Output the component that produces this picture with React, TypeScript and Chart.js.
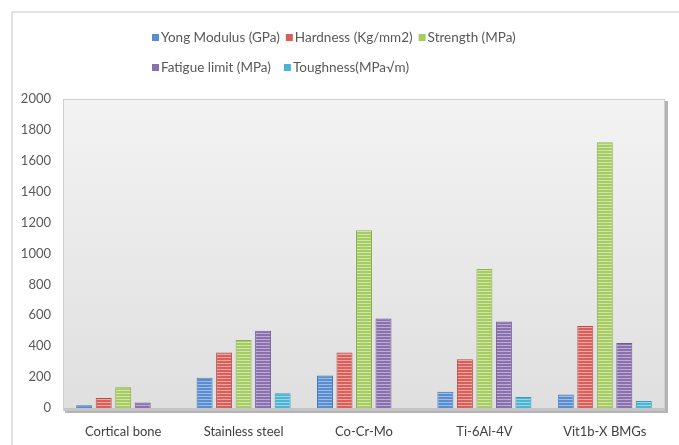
import React, { useEffect, useRef } from "react";
import { Chart, registerables } from "chart.js";

Chart.register(...registerables);

// ---- data ----
const categories = ["Cortical bone", "Stainless steel", "Co-Cr-Mo", "Ti-6Al-4V", "Vit1b-X BMGs"];
const seriesNames = [
  "Yong Modulus (GPa)",
  "Hardness (Kg/mm2)",
  "Strength (MPa)",
  "Fatigue limit (MPa)",
  "Toughness(MPa\u221Am)",
];
const youngModulus = [18, 195, 210, 105, 88];
const hardness = [65, 360, 360, 315, 530];
const strength = [135, 440, 1150, 900, 1720];
const fatigueLimit = [35, 500, 580, 560, 420];
const toughness = [0, 95, 0, 72, 45];
const yMin = 0;
const yMax = 2000;
const yStep = 200;

// ---- styling ----
const FONT = "Lato, 'Open Sans', sans-serif";
const baseColors = ["#5a8dcf", "#d95f5b", "#a5cb62", "#8b70ae", "#4cb5d2"];
const stripeColors = ["#9dbde4", "#eca7a5", "#d1e6a9", "#bcacd4", "#9bd7e8"];
const edgeColors = ["#4a78b2", "#b94c48", "#8db04f", "#735b96", "#3b9bb6"];

function stripePattern(base: string, stripe: string): CanvasPattern | string {
  const c = document.createElement("canvas");
  c.width = 8;
  c.height = 3;
  const g = c.getContext("2d");
  if (!g) return base;
  g.fillStyle = base;
  g.fillRect(0, 0, 8, 3);
  g.fillStyle = stripe;
  g.fillRect(0, 0, 8, 1);
  const ctx = document.createElement("canvas").getContext("2d");
  return (ctx && ctx.createPattern(c, "repeat")) || base;
}

const legendRows = [
  [0, 1, 2],
  [3, 4],
];
const legendStartX = 152;
const legendRowY = [38, 68];
const legendGap = [6, 13];

const frame = {
  id: "frame",
  beforeDraw(chart: any) {
    const { ctx, chartArea: a, width, height } = chart;
    ctx.save();
    ctx.fillStyle = "#ffffff";
    ctx.fillRect(0, 0, width, height);
    // outer chart border
    ctx.strokeStyle = "#e2e2e2";
    ctx.lineWidth = 2;
    ctx.beginPath();
    ctx.moveTo(12, height);
    ctx.lineTo(12, 12);
    ctx.lineTo(width, 12);
    ctx.stroke();
    // plot area shadow
    ctx.fillStyle = "#b4b4b4";
    ctx.fillRect(a.left + 2, a.top + 2, a.right - a.left + 1, a.bottom - a.top + 3);
    // plot area fill
    const grad = ctx.createLinearGradient(0, a.top, 0, a.bottom);
    grad.addColorStop(0, "#f3f3f3");
    grad.addColorStop(1, "#dfdfdf");
    ctx.fillStyle = grad;
    ctx.fillRect(a.left, a.top, a.right - a.left, a.bottom - a.top + 3);
    ctx.strokeStyle = "#cfcfcf";
    ctx.lineWidth = 1;
    ctx.strokeRect(a.left + 0.5, a.top + 0.5, a.right - a.left - 1, a.bottom - a.top + 2);
    // floor
    ctx.fillStyle = "#c4c4c4";
    ctx.fillRect(a.left + 1, a.bottom, a.right - a.left - 1, 3);
    ctx.restore();
  },
  afterDraw(chart: any) {
    const ctx = chart.ctx;
    ctx.save();
    ctx.font = `13.5px ${FONT}`;
    ctx.textBaseline = "middle";
    ctx.textAlign = "left";
    legendRows.forEach((row, r) => {
      let x = legendStartX;
      const y = legendRowY[r];
      row.forEach((i) => {
        const label = chart.data.datasets[i].label;
        ctx.fillStyle = baseColors[i];
        ctx.fillRect(x, y - 4, 7, 7);
        ctx.fillStyle = "#595959";
        ctx.fillText(label, x + 9, y);
        x += 9 + ctx.measureText(label).width + legendGap[r];
      });
    });
    ctx.restore();
  },
};

export default function App() {
  const ref = useRef<HTMLCanvasElement | null>(null);

  useEffect(() => {
    if (!ref.current) return;
    const series = [youngModulus, hardness, strength, fatigueLimit, toughness];
    const chart = new Chart(ref.current, {
      type: "bar",
      data: {
        labels: categories,
        datasets: series.map((values, i) => ({
          label: seriesNames[i],
          data: values,
          backgroundColor: stripePattern(baseColors[i], stripeColors[i]),
          borderColor: edgeColors[i],
          borderWidth: 1,
          categoryPercentage: 0.81,
          barPercentage: 0.82,
        })),
      },
      options: {
        responsive: false,
        animation: false,
        layout: { padding: { top: 99, right: 14, bottom: 0, left: 0 } },
        plugins: {
          legend: { display: false },
          tooltip: { enabled: false },
        },
        scales: {
          x: {
            grid: { display: false, drawTicks: false },
            border: { display: false },
            ticks: { color: "#404040", font: { family: FONT, size: 13 }, padding: 16 },
            afterFit(scale: any) {
              scale.height = 37;
            },
          },
          y: {
            min: yMin,
            max: yMax,
            grid: { display: false, drawTicks: false },
            border: { display: false },
            ticks: {
              stepSize: yStep,
              color: "#595959",
              font: { family: FONT, size: 13 },
              padding: 12,
              callback: (v: any) => String(v),
            },
            afterFit(scale: any) {
              scale.width = 63;
            },
          },
        },
      },
      plugins: [frame],
    });
    return () => chart.destroy();
  }, []);

  return (
    <div style={{ position: "absolute", left: 0, top: 0, width: 679, height: 445 }}>
      <canvas ref={ref} width={679} height={445} style={{ display: "block" }} />
    </div>
  );
}
